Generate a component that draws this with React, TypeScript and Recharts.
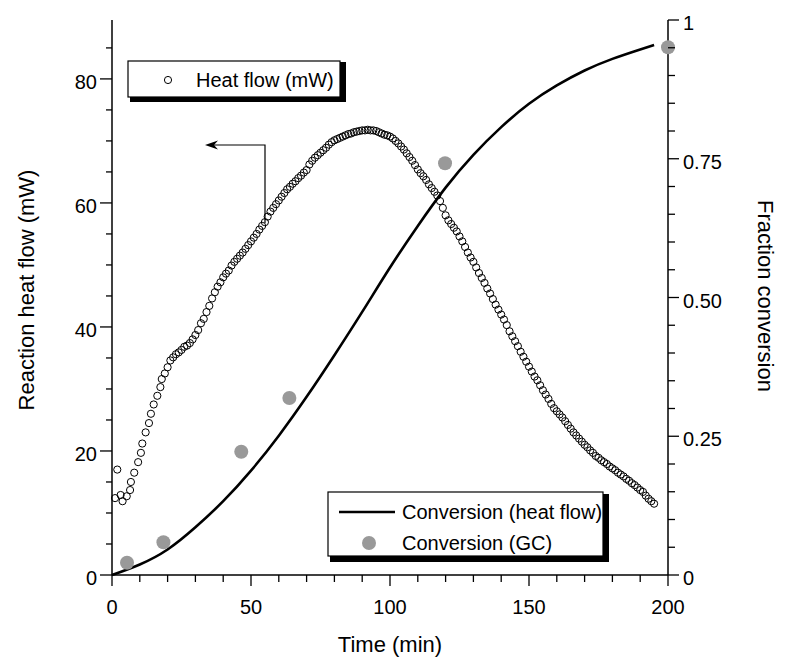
import React from 'react';
import { ComposedChart, Scatter, Line, XAxis, YAxis } from 'recharts';

// heat flow trace (mW)
const heatTime = [
  1.1, 1.9, 3.1, 3.8, 5.3, 6.5, 6.8, 8.0, 9.4, 10.4, 10.9, 12.1, 13.3, 14.0, 15.0, 16.3, 17.4, 17.9, 19.0, 20.0, 21.0,
  22, 23, 24, 25, 26, 27, 28, 29, 30, 31,
  32, 33, 34, 35, 36, 37, 38, 39, 40, 41,
  42, 43, 44, 45, 46, 47, 48, 49, 50, 51,
  52, 53, 54, 55, 56, 57, 58, 59, 60, 61,
  62, 63, 64, 65, 66, 67, 68, 69, 70, 71,
  72, 73, 74, 75, 76, 77, 78, 79, 80, 81,
  82, 83, 84, 85, 86, 87, 88, 89, 90, 91,
  92, 93, 94, 95, 96, 97, 98, 99, 100, 101,
  102, 103, 104, 105, 106, 107, 108, 109, 110, 111,
  112, 113, 114, 115, 116, 117, 118, 119, 120, 121,
  122, 123, 124, 125, 126, 127, 128, 129, 130, 131,
  132, 133, 134, 135, 136, 137, 138, 139, 140, 141,
  142, 143, 144, 145, 146, 147, 148, 149, 150, 151,
  152, 153, 154, 155, 156, 157, 158, 159, 160, 161,
  162, 163, 164, 165, 166, 167, 168, 169, 170, 171,
  172, 173, 174, 175, 176, 177, 178, 179, 180, 181,
  182, 183, 184, 185, 186, 187, 188, 189, 190, 191,
  192, 193, 194, 195,
];
const heatFlow = [
  12.4, 17.0, 12.9, 11.9, 12.7, 13.7, 15.0, 16.5, 18.2, 19.7, 21.2, 23.0, 24.5, 26.0, 27.5, 28.9, 30.3, 31.6, 32.5, 33.5, 34.6,
  35.1, 35.6, 35.9, 36.3, 36.8, 37.0, 37.4, 38.0, 38.7, 39.5,
  40.6, 41.3, 42.4, 43.4, 44.6, 45.6, 46.5, 47.2, 48.0, 48.6,
  49.1, 49.9, 50.5, 51.0, 51.5, 52.0, 52.6, 53.2, 53.8, 54.4,
  55.0, 55.7, 56.3, 56.9, 57.8, 58.6, 59.2, 59.8, 60.4, 61.0,
  61.6, 62.2, 62.6, 63.1, 63.5, 64.0, 64.4, 64.9, 65.3, 66.2,
  66.8, 67.3, 67.7, 68.1, 68.5, 68.9, 69.4, 69.8, 70.1, 70.3,
  70.5, 70.7, 70.9, 71.1, 71.2, 71.4, 71.5, 71.6, 71.7, 71.7,
  71.8, 71.7, 71.7, 71.6, 71.4, 71.2, 71.0, 70.9, 70.7, 70.4,
  70.0, 69.6, 69.1, 68.6, 68.0, 67.4, 66.8, 66.1, 65.4, 64.8,
  64.3, 63.7, 63.0, 62.4, 61.8, 61.2, 60.3, 59.2, 58.0, 57.2,
  56.6, 56.0, 55.4, 54.6, 53.8, 52.9, 52.0, 51.2, 50.5, 49.6,
  48.7, 47.9, 47.1, 46.2, 45.4, 44.5, 43.6, 42.8, 42.0, 41.2,
  40.3, 39.3, 38.5, 37.7, 36.9, 36.0, 35.2, 34.4, 33.6, 32.8,
  32.0, 31.4, 30.6, 29.8, 29.1, 28.4, 27.6, 26.9, 26.4, 25.9,
  25.4, 24.8, 24.2, 23.6, 23.0, 22.5, 22.0, 21.5, 21.0, 20.6,
  20.1, 19.7, 19.2, 18.9, 18.5, 18.2, 17.9, 17.5, 17.2, 16.9,
  16.5, 16.2, 15.9, 15.5, 15.2, 14.8, 14.5, 14.1, 13.7, 13.4,
  12.8, 12.3, 11.9, 11.5,
];

// conversion from heat flow (solid line)
const convTime = [0, 10, 20, 30, 40, 50, 60, 70, 80, 90, 100, 110, 120, 130, 140, 150, 160, 170, 180, 190, 195];
const convValue = [0, 0.019, 0.046, 0.086, 0.133, 0.188, 0.251, 0.321, 0.396, 0.474, 0.554, 0.629, 0.698, 0.757, 0.807, 0.849, 0.882, 0.909, 0.93, 0.947, 0.955];

// conversion by GC (grey dots)
const gcTime = [5.4, 18.5, 46.5, 63.8, 119.8, 200];
const gcValue = [0.022, 0.059, 0.222, 0.319, 0.742, 0.951];

const xTicks = [0, 10, 20, 30, 40, 50, 60, 70, 80, 90, 100, 110, 120, 130, 140, 150, 160, 170, 180, 190, 200];
const xLabels = [0, 50, 100, 150, 200];
const leftTicks = [0, 5, 10, 15, 20, 25, 30, 35, 40, 45, 50, 55, 60, 65, 70, 75, 80, 85];
const leftLabels = [0, 20, 40, 60, 80];
const rightTicks = [0, 0.05, 0.1, 0.15, 0.2, 0.25, 0.3, 0.35, 0.4, 0.45, 0.5, 0.55, 0.6, 0.65, 0.7, 0.75, 0.8, 0.85, 0.9, 0.95, 1];
const rightLabelValues = [0, 0.25, 0.5, 0.75, 1];
const rightLabelText = ['0', '0.25', '0.50', '0.75', '1'];

const heatData = heatTime.map((t, i) => ({ t, hf: heatFlow[i] }));
const convData = convTime.map((t, i) => ({ t, conv: convValue[i] }));
const gcData = gcTime.map((t, i) => ({ t, gc: gcValue[i] }));

const FONT = '"Liberation Sans", Arial, Helvetica, sans-serif';
const isNear = (a: number, b: number) => Math.abs(a - b) < 1e-6;

const XTick = (props: any) => {
  const { x, y, payload } = props;
  const major = xLabels.some((v) => isNear(v, payload.value));
  return (
    <g>
      <line x1={x} y1={y} x2={x} y2={y + (major ? 11 : 7)} stroke="#000" strokeWidth={1.3} />
      {major && (
        <text x={x} y={y + 39} textAnchor="middle" fontSize={20} fontFamily={FONT} fill="#000">
          {payload.value}
        </text>
      )}
    </g>
  );
};

const LeftTick = (props: any) => {
  const { x, y, payload } = props;
  const major = leftLabels.some((v) => isNear(v, payload.value));
  return (
    <g>
      <line x1={x - (major ? 12 : 6)} y1={y} x2={x} y2={y} stroke="#000" strokeWidth={1.3} />
      {major && (
        <text x={x - 15} y={y + 10} textAnchor="end" fontSize={20} fontFamily={FONT} fill="#000">
          {payload.value}
        </text>
      )}
    </g>
  );
};

const RightTick = (props: any) => {
  const { x, y, payload } = props;
  const idx = rightLabelValues.findIndex((v) => isNear(v, payload.value));
  const major = idx >= 0;
  return (
    <g>
      <line x1={x} y1={y} x2={x + (major ? 11 : 7)} y2={y} stroke="#000" strokeWidth={1.3} />
      {major && (
        <text x={x + 15} y={y + 10} textAnchor="start" fontSize={20} fontFamily={FONT} fill="#000">
          {rightLabelText[idx]}
        </text>
      )}
    </g>
  );
};

const HollowDot = (props: any) => (
  <circle cx={props.cx} cy={props.cy} r={3.6} fill="none" stroke="#000" strokeWidth={1} />
);

const GreyDot = (props: any) => <circle cx={props.cx} cy={props.cy} r={7} fill="#999" />;

const axisStyle = { stroke: '#000', strokeWidth: 1.5 };

const App: React.FC = () => {
  return (
    <div style={{ position: 'absolute', left: 0, top: 0, width: 785, height: 666, background: '#fff' }}>
      <ComposedChart width={785} height={666} margin={{ top: 20, right: 0, bottom: 0, left: 0 }}>
        <XAxis
          xAxisId="bottom"
          type="number"
          dataKey="t"
          domain={[0, 200]}
          ticks={xTicks}
          interval={0}
          height={91}
          tickSize={0}
          tickMargin={0}
          tickLine={false}
          axisLine={axisStyle}
          tick={<XTick />}
        />
        {/* top frame */}
        <XAxis
          xAxisId="top"
          orientation="top"
          type="number"
          dataKey="t"
          domain={[0, 200]}
          height={0}
          tick={false}
          tickLine={false}
          axisLine={axisStyle}
        />
        <YAxis
          yAxisId="left"
          type="number"
          domain={[0, 89.5]}
          ticks={leftTicks}
          interval={0}
          width={112}
          tickSize={0}
          tickMargin={0}
          tickLine={false}
          axisLine={axisStyle}
          tick={<LeftTick />}
        />
        <YAxis
          yAxisId="right"
          orientation="right"
          type="number"
          domain={[0, 1]}
          ticks={rightTicks}
          interval={0}
          width={117}
          tickSize={0}
          tickMargin={0}
          tickLine={false}
          axisLine={axisStyle}
          tick={<RightTick />}
        />
        <Scatter
          xAxisId="bottom"
          yAxisId="left"
          data={heatData}
          dataKey="hf"
          shape={<HollowDot />}
          isAnimationActive={false}
        />
        <Line
          xAxisId="bottom"
          yAxisId="right"
          data={convData}
          dataKey="conv"
          type="natural"
          stroke="#000"
          strokeWidth={2.6}
          dot={false}
          activeDot={false}
          isAnimationActive={false}
        />
        <Scatter
          xAxisId="bottom"
          yAxisId="right"
          data={gcData}
          dataKey="gc"
          shape={<GreyDot />}
          isAnimationActive={false}
        />
      </ComposedChart>

      {/* titles, legends and arrow */}
      <svg
        width={785}
        height={666}
        style={{ position: 'absolute', left: 0, top: 0, pointerEvents: 'none' }}
        fontFamily={FONT}
      >
        <text x={26} y={290} transform="rotate(-90 26 290)" textAnchor="middle" dominantBaseline="central" fontSize={22}>
          Reaction heat flow (mW)
        </text>
        <text x={765} y={296} transform="rotate(90 765 296)" textAnchor="middle" dominantBaseline="central" fontSize={22}>
          Fraction conversion
        </text>
        <text x={390} y={652} textAnchor="middle" fontSize={22}>
          Time (min)
        </text>

        {/* heat flow legend */}
        <rect x={130} y={62} width={216} height={40} fill="#000" />
        <rect x={128} y={61} width={212} height={36} fill="#fff" stroke="#000" strokeWidth={1.2} />
        <circle cx={168} cy={80} r={3.6} fill="none" stroke="#000" strokeWidth={1} />
        <text x={196} y={87} fontSize={20}>Heat flow (mW)</text>

        {/* arrow */}
        <polyline points="265,223 265,145 212,145" fill="none" stroke="#000" strokeWidth={1.2} />
        <polygon points="205,145 218,140.5 214,145 218,149.5" fill="#000" />

        {/* conversion legend */}
        <rect x={330} y={494} width={279} height={68} fill="#000" />
        <rect x={328} y={492} width={275} height={64} fill="#fff" stroke="#000" strokeWidth={1.2} />
        <line x1={339} y1={512} x2={395} y2={512} stroke="#000" strokeWidth={2.6} />
        <text x={402} y={519} fontSize={20}>Conversion (heat flow)</text>
        <circle cx={369} cy={543} r={7} fill="#999" />
        <text x={402} y={550} fontSize={20}>Conversion (GC)</text>
      </svg>
    </div>
  );
};

export default App;
